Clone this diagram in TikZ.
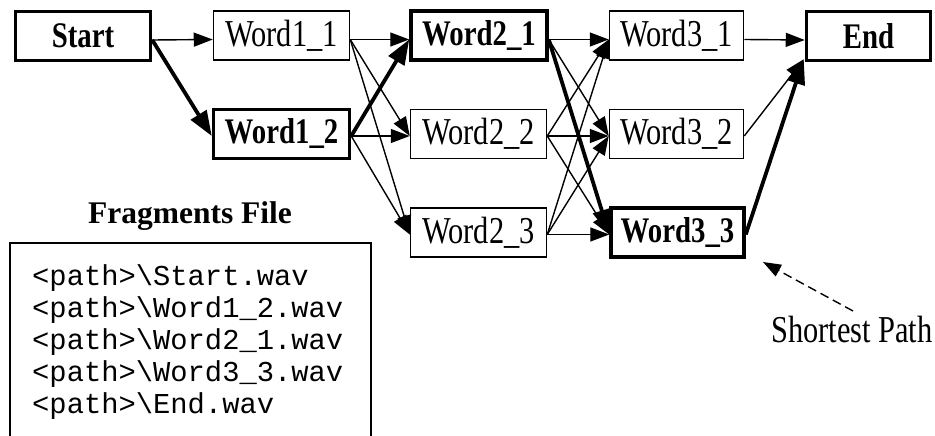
\documentclass[tikz,border=0pt]{standalone}
\usepackage{fontspec}
\setmainfont[FakeStretch=0.8]{Liberation Serif}
\newfontfamily\titlefont{Liberation Serif}
\setmonofont{Liberation Mono}
\usetikzlibrary{arrows.meta,calc}
\begin{document}
\begin{tikzpicture}[x=1pt,y=-1pt,
  box/.style={draw,line width=1.5pt,minimum width=136pt,minimum height=49pt,inner sep=0pt,
    font=\fontsize{38}{40}\selectfont},
  boldbox/.style={box,line width=3.5pt,font=\fontsize{36}{40}\selectfont\bfseries},
  thin/.style={line width=1.4pt,-{Triangle[length=19pt,width=14pt]}},
  thick/.style={line width=3.8pt,-{Triangle[length=25pt,width=18pt]}},
  mono/.style={anchor=base west,inner sep=0pt,font=\fontsize{28.8}{32}\ttfamily}
]
\useasboundingbox (0,0) rectangle (935,436);
\clip (0,0) rectangle (935,436);

\node[boldbox,minimum width=135pt] (start) at (83,36) {Start};
\node[box] (w11) at (281.5,35.5) {Word1\_1};
\node[boldbox] (w12) at (281.5,134) {Word1\_2};
\node[boldbox] (w21) at (479,35.5) {Word2\_1};
\node[box] (w22) at (478.5,134) {Word2\_2};
\node[box] (w23) at (478.5,232.5) {Word2\_3};
\node[box,minimum width=134pt] (w31) at (676.5,35.5) {Word3\_1};
\node[box,minimum width=134pt] (w32) at (676.5,134) {Word3\_2};
\node[boldbox,minimum width=133pt] (w33) at (677.5,232.5) {Word3\_3};
\node[boldbox,minimum width=124pt] (end) at (868.5,36) {End};

% start to layer 1
\draw[thin] ([yshift=-4pt]start.east) -- ([yshift=-4pt]w11.west);
\draw[thick] ([yshift=-4pt]start.east) -- ([yshift=-2pt]w12.west);
% layer 1 to layer 2
\draw[thin] ([yshift=-4pt]w11.east) -- ([yshift=-4pt]w21.west);
\draw[thin] ([yshift=-4pt]w11.east) -- ([yshift=-2pt]w22.west);
\draw[thin] ([yshift=-4pt]w11.east) -- ([yshift=-2pt]w23.west);
\draw[thick] ([yshift=-2pt]w12.east) -- ([yshift=-4pt]w21.west);
\draw[thin] ([yshift=-2pt]w12.east) -- ([yshift=-2pt]w22.west);
\draw[thin] ([yshift=-2pt]w12.east) -- ([yshift=-2pt]w23.west);
% layer 2 to layer 3
\draw[thin] ([yshift=-4pt]w21.east) -- ([yshift=-4pt]w31.west);
\draw[thin] ([yshift=-4pt]w21.east) -- ([yshift=-2pt]w32.west);
\draw[thick] ([yshift=-4pt]w21.east) -- ([yshift=-2pt]w33.west);
\draw[thin] ([yshift=-2pt]w22.east) -- ([yshift=-4pt]w31.west);
\draw[thin] ([yshift=-2pt]w22.east) -- ([yshift=-2pt]w32.west);
\draw[thin] ([yshift=-2pt]w22.east) -- ([yshift=-2pt]w33.west);
\draw[thin] ([yshift=-2pt]w23.east) -- ([yshift=-4pt]w31.west);
\draw[thin] ([yshift=-2pt]w23.east) -- ([yshift=-2pt]w32.west);
\draw[thin] ([yshift=-2pt]w23.east) -- ([yshift=-2pt]w33.west);
% layer 3 to end
\coordinate (endin) at ($(end.south west)+(-1,-3)$);
\draw[thin] ([yshift=-4pt]w31.east) -- ([yshift=-4pt]end.west);
\draw[thin] ([yshift=-2pt]w32.east) -- (endin);
\draw[thick] ([yshift=-2pt]w33.east) -- (endin);

% fragments file
\node[font=\fontsize{31.5}{36}\titlefont\bfseries,anchor=base] (ftitle) at (190,223) {Fragments File};
\draw[line width=1.4pt] (10,460) -- (10,243) -- (371,243) -- (371,460);
\node[mono] (f1) at (32,285) {<path>\textbackslash Start.wav};
\node[mono] (f2) at (32,317) {<path>\textbackslash Word1\_2.wav};
\node[mono] (f3) at (32,349) {<path>\textbackslash Word2\_1.wav};
\node[mono] (f4) at (32,381) {<path>\textbackslash Word3\_3.wav};
\node[mono] (f5) at (32,413) {<path>\textbackslash End.wav};

% shortest path label
\node[font=\fontsize{38}{40}\selectfont,anchor=base] (sp) at (852,342) {Shortest Path};
\coordinate (sptip) at (763,262);
\coordinate (spfrom) at (853,311);
\draw[line width=1.4pt,dashed,dash pattern=on 9pt off 5pt,-{Triangle[length=18pt,width=13pt]}] (spfrom) -- (sptip);
\end{tikzpicture}
\end{document}
